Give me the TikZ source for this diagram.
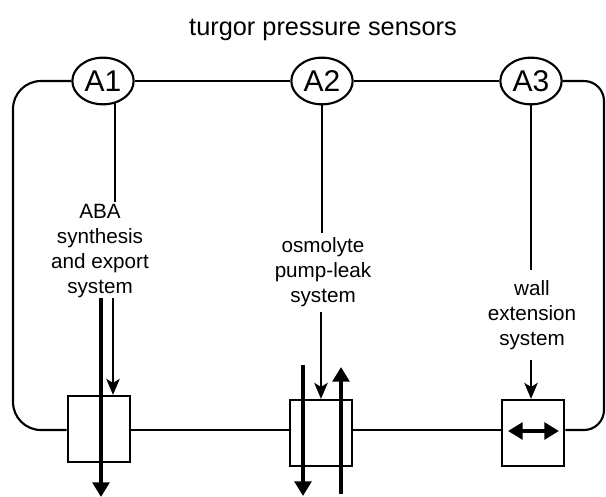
\documentclass[tikz,border=0pt]{standalone}
\usepackage{fontspec}
\setmainfont{Liberation Sans}
\usetikzlibrary{arrows.meta,shapes.geometric}
\begin{document}
\begin{tikzpicture}[x=0.75pt,y=-0.75pt,
  wire/.style={line width=1.6pt},
  sensor/.style={ellipse, draw, line width=1.6pt, fill=white, minimum width=46pt, minimum height=35pt, inner sep=0pt, font=\fontsize{22.5}{22.5}\selectfont},
  sysbox/.style={rectangle, draw, line width=1.6pt, minimum width=47pt, minimum height=49.5pt, inner sep=0pt},
  systext/.style={align=center, font=\fontsize{15.5}{18.75}\selectfont, inner sep=1pt},
  thinarrow/.style={line width=2pt, -{Stealth[length=12pt,width=10pt,inset=3pt]}},
  thickarrow/.style={line width=3.6pt, -{Triangle[length=11pt,width=12.5pt]}},
  dblarrow/.style={line width=3.6pt, {Triangle[length=11pt,width=12.5pt]}-{Triangle[length=11pt,width=12.5pt]}}
]
\useasboundingbox (0,0) rectangle (606,496);

% title
\node[font=\fontsize{19}{19}\selectfont] (title) at (323,30) {turgor pressure sensors};

% system labels
\node[systext] (aba) at (100,251) {ABA\\synthesis\\and export\\system};
\node[systext] (osm) at (323,272) {osmolyte\\pump-leak\\system};
\node[systext] (wall) at (532,315) {wall\\extension\\system};

% junction coordinates under the sensors
\coordinate (j1) at (115,81);
\coordinate (j2) at (322,81);
\coordinate (j3) at (531,81);
\coordinate (e1) at (115,202);
\coordinate (e2) at (322,233);
\coordinate (e3) at (531,270);

\draw[wire] (j1) -- (e1);
\draw[wire] (j2) -- (e2);
\draw[wire] (j3) -- (e3);

% sensors
\node[sensor] (A1) at (103,81) {A1};
\node[sensor] (A2) at (322,81) {A2};
\node[sensor] (A3) at (531,81) {A3};

% boxes
\node[sysbox] (B1) at (99,429) {};
\node[sysbox] (B2) at (321,433) {};
\node[sysbox] (B3) at (533,433) {};
\coordinate (h) at (0,430);

% frame
\draw[wire] (A1.east) -- (A2.west);
\draw[wire] (A2.east) -- (A3.west);
\draw[wire] (B1.east |- h) -- (B2.west |- h);
\draw[wire] (B2.east |- h) -- (B3.west |- h);
\draw[wire, rounded corners=21pt] (A1.west) -- (13,81) -- (13,430) -- (B1.west |- h);
\draw[wire, rounded corners=15pt] (A3.east) -- (604,81) -- (604,430) -- (B3.east |- h);

% arrows, ABA system
\coordinate (s1) at (113,298);
\coordinate (t1a) at (101,298);
\coordinate (t1b) at (101,497);
\draw[thinarrow] (s1) -- (s1 |- B1.north);
\draw[thickarrow] (t1a) -- (t1b);

% arrows, osmolyte system
\coordinate (s2) at (321,312);
\coordinate (t2a) at (303,365);
\coordinate (t2b) at (303,496);
\coordinate (u2a) at (341,494);
\coordinate (u2b) at (341,367);
\draw[thinarrow] (s2) -- (s2 |- B2.north);
\draw[thickarrow] (t2a) -- (t2b);
\draw[thickarrow] (u2a) -- (u2b);

% arrows, wall extension system
\coordinate (s3) at (531,360);
\coordinate (d3a) at (508,431);
\coordinate (d3b) at (559,431);
\draw[thinarrow] (s3) -- (s3 |- B3.north);
\draw[dblarrow] (d3a) -- (d3b);
\end{tikzpicture}
\end{document}
